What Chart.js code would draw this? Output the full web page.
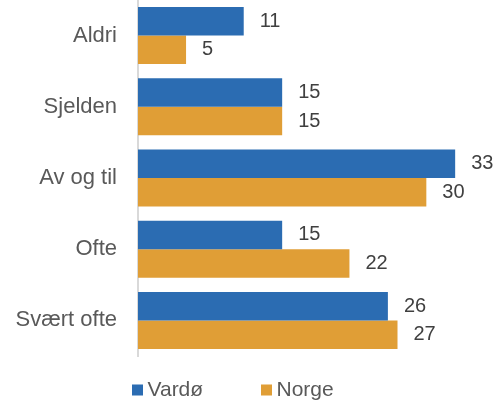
<!DOCTYPE html>
<html>
<head>
<meta charset="utf-8">
<script src="https://cdn.jsdelivr.net/npm/chart.js@4.4.1/dist/chart.umd.min.js"></script>
<style>
    html, body { margin: 0; padding: 0; background: #fff; }
    #wrap { width: 502px; height: 401px; }
</style>
</head>
<body>
<div id="wrap"><canvas id="myBarChart"></canvas></div>
<script>
var categories = ['Aldri', 'Sjelden', 'Av og til', 'Ofte', 'Svært ofte'];
var vardo = [11, 15, 33, 15, 26];
var norge = [5, 15, 30, 22, 27];
var seriesNames = ['Vardø', 'Norge'];
var seriesColors = ['#2B6CB2', '#E09E36'];

var fontFamily = "'Liberation Sans', Arial, sans-serif";

// numbers printed just right of each bar
var valueLabels = {
    id: 'valueLabels',
    afterDatasetsDraw: function(chart) {
        var ctx = chart.ctx;
        ctx.save();
        ctx.font = '20px ' + fontFamily;
        ctx.fillStyle = '#404040';
        ctx.textAlign = 'left';
        ctx.textBaseline = 'middle';
        chart.data.datasets.forEach(function(ds, i) {
            chart.getDatasetMeta(i).data.forEach(function(bar, j) {
                ctx.fillText(ds.data[j], bar.x + 16, bar.y);
            });
        });
        ctx.restore();
    }
};

// simple legend row under the plot
var bottomLegend = {
    id: 'bottomLegend',
    afterDraw: function(chart) {
        var ctx = chart.ctx;
        var x = 132, y = 390;
        ctx.save();
        ctx.font = '21px ' + fontFamily;
        ctx.textBaseline = 'middle';
        chart.data.datasets.forEach(function(ds) {
            ctx.fillStyle = ds.backgroundColor;
            ctx.fillRect(x, y - 5.5, 11, 11);
            ctx.fillStyle = '#595959';
            ctx.fillText(ds.label, x + 15.5, y);
            x += 129;
        });
        ctx.restore();
    }
};

var ctx = document.getElementById('myBarChart').getContext('2d');

var data = {
    labels: categories,
    datasets: [{
        label: seriesNames[0],
        data: vardo,
        backgroundColor: seriesColors[0],
        categoryPercentage: 0.8,
        barPercentage: 1
    }, {
        label: seriesNames[1],
        data: norge,
        backgroundColor: seriesColors[1],
        categoryPercentage: 0.8,
        barPercentage: 1
    }]
};

var options = {
    indexAxis: 'y',
    responsive: true,
    maintainAspectRatio: false,
    animation: false,
    layout: {
        padding: { left: 0, right: 18, top: 0, bottom: 45 }
    },
    plugins: {
        legend: { display: false },
        tooltip: { enabled: false }
    },
    scales: {
        x: {
            display: false,
            min: 0,
            max: 36
        },
        y: {
            grid: { display: false, drawTicks: false },
            border: { display: true, color: '#D9D9D9', width: 2 },
            ticks: {
                color: '#595959',
                padding: 21,
                font: { family: fontFamily, size: 22 }
            },
            afterFit: function(scale) {
                scale.width = 138; // fixed gutter for the category names
                scale.paddingTop = 0;
                scale.paddingBottom = 0;
            }
        }
    }
};

var myBarChart = new Chart(ctx, {
    type: 'bar',
    data: data,
    options: options,
    plugins: [valueLabels, bottomLegend]
});
</script>
</body>
</html>
